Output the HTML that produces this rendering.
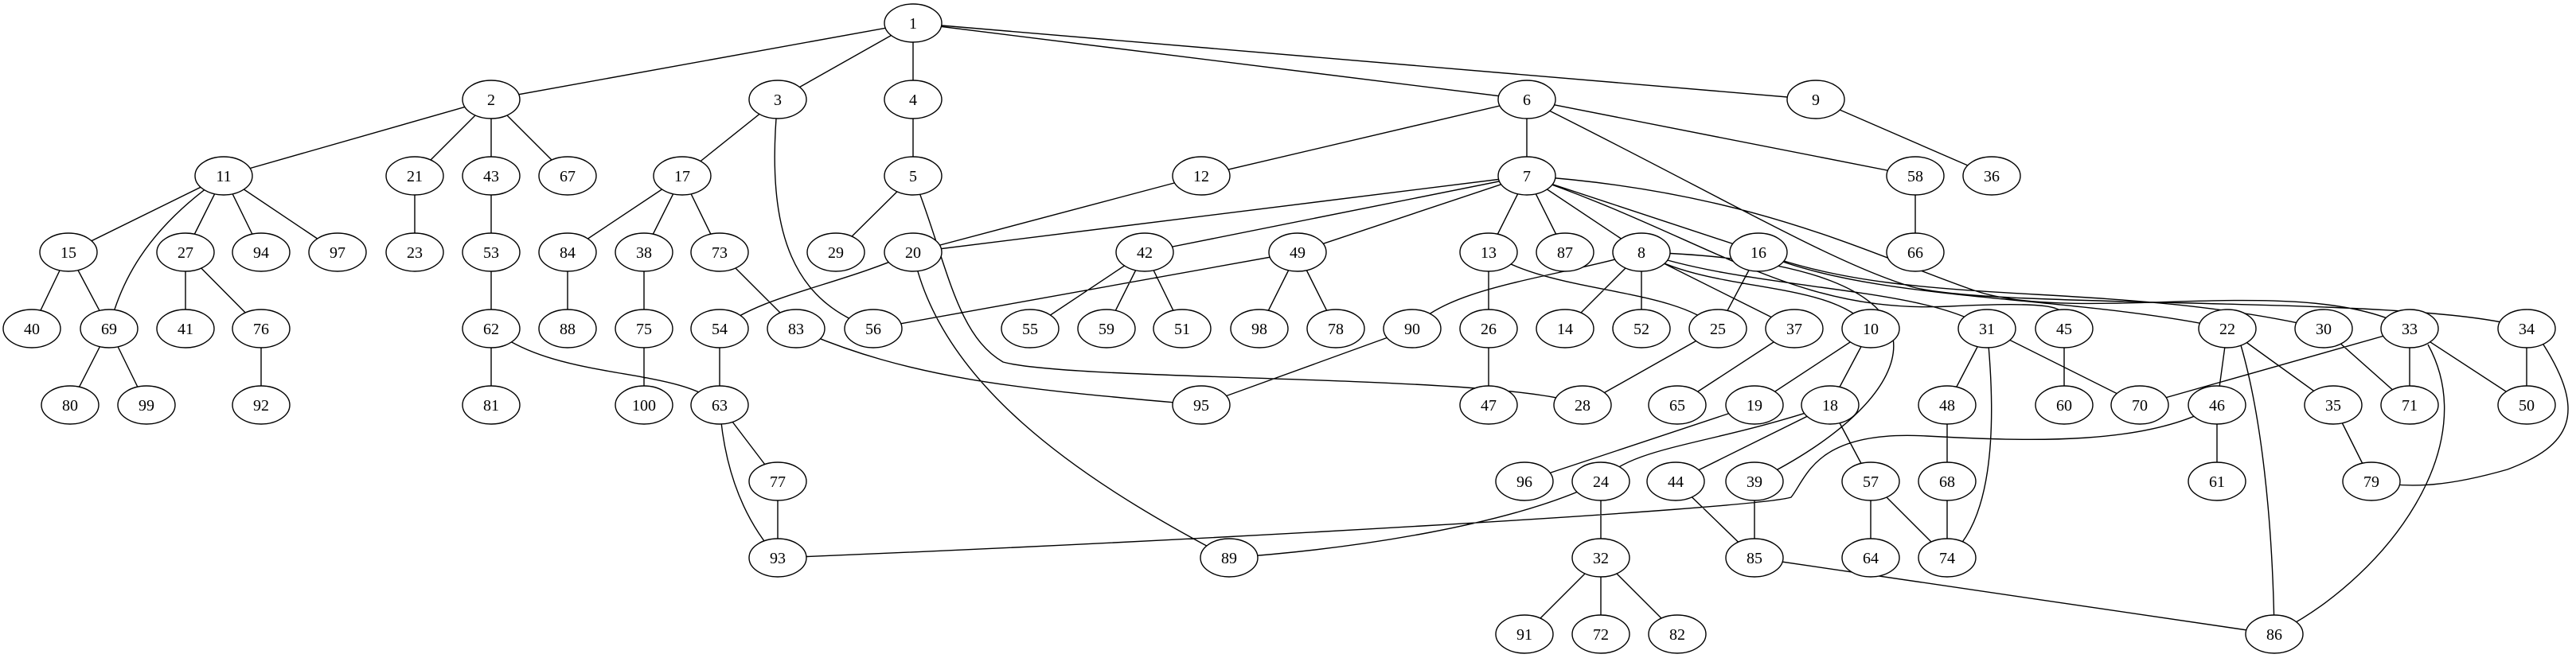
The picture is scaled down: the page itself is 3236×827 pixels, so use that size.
<!DOCTYPE html>
<html><head><meta charset="utf-8"><style>
html,body{margin:0;padding:0;background:#fff;}
svg{display:block;}
text{font-family:"Liberation Serif",serif;font-size:20px;text-anchor:middle;}
</style></head><body>
<svg width="3236" height="827" viewBox="0 0 3236 827" xmlns="http://www.w3.org/2000/svg">
<g stroke="#000" stroke-width="1.4" fill="none">
<path d="M1147,29L617,125M1147,29L977,125M1147,29L1147,125M1147,29L1918,125M1147,29L2281,125
M617,125L281,221M617,125L521,221M617,125L617,221M617,125L713,221M977,125L857,221M1147,125L1147,221
M1918,125L1918,221M1918,125L1509,221M1918,125L2406,221M2281,125L2502,221
M281,221L86,317M281,221L233,317M281,221L328,317M281,221L424,317M521,221L521,317M617,221L617,317
M857,221L713,317M857,221L809,317M857,221L904,317M1147,221L1050,317M1509,221L1147,317
M1918,221L1147,317M1918,221L1438,317M1918,221L1630,317M1918,221L1870,317M1918,221L1966,317M1918,221L2062,317M1918,221L2209,317
M2406,221L2406,317
M86,317L40,413M86,317L137,413M233,317L233,413M233,317L328,413M617,317L617,413M713,317L713,413M809,317L809,413M904,317L1000,413
M1147,317C1050,360 960,370 904,413
M1438,317L1294,413M1438,317L1390,413M1438,317L1485,413M1630,317L1097,413M1630,317L1582,413M1630,317L1678,413
M1870,317L1870,413M1870,317C1950,370 2100,360 2158,413
M2062,317C1950,350 1820,360 1774,413
M2062,317L1966,413M2062,317L2062,413M2062,317L2254,413M2209,317L2158,413
M137,413L88,509M137,413L184,509M328,413L328,509M617,413L617,509M617,413C700,480 850,460 904,509M809,413L809,509M904,413L904,509
M1000,413C1150,480 1300,490 1509,509M1774,413L1509,509M1870,413L1870,509M2158,413L1988,509M2254,413L2107,509
M2350,413L2204,509M2350,413L2299,509M2496,413L2446,509M2496,413L2688,509M2593,413L2593,509
M2798,413L2785,509M2798,413L2931,509M2919,413L3027,509M3027,413L2688,509M3027,413L3027,509M3027,413L3174,509M3174,413L3174,509
M904,509L977,605M2204,509L1915,605M2299,509C2150,560 2050,560 2011,605M2299,509L2105,605M2299,509L2350,605
M2446,509L2446,605M2785,509L2785,605M2931,509L2979,605M977,605L977,701M2011,605L2011,701M2011,605C1900,660 1700,690 1544,701
M2105,605L2204,701M2204,605L2204,701M2350,605L2350,701M2350,605L2446,701M2446,605L2446,701
M2011,701L1915,797M2011,701L2011,797M2011,701L2107,797M2204,701L2857,797
M2062,317C2150,370 2300,350 2350,413
M2062,317C2200,365 2420,360 2496,413
M2209,317C2350,380 2600,370 2798,413
M2209,317C2400,390 2650,350 2919,413
M1918,221C2150,300 2250,395 2450,385S2570,400 2593,413
M1918,221C2200,240 2350,320 2480,365S2900,340 3027,413
M1918,125C2150,240 2300,330 2400,360S3050,370 3174,413
M2062,317C2500,330 2420,500 2204,605
M2785,509C2700,560 2550,555 2420,548C2280,540 2270,600 2250,625C2200,640 1500,680 977,701
M977,125C960,300 1000,380 1097,413
M1147,221C1190,330 1200,420 1260,455C1350,480 1900,470 1988,509
M281,221C180,290 150,360 137,413
M1147,317C1180,480 1350,600 1544,701
M904,509C910,600 940,660 977,701
M2496,413C2510,550 2500,660 2446,701
M2815,434C2840,520 2855,650 2857,797
M3050,433C3120,560 3000,720 2870,790
M3195,433C3250,520 3230,560 3150,590C3080,610 3030,615 2979,605"/>
</g>
<g stroke="#000" stroke-width="1.4" fill="#fff">
<ellipse cx="1147" cy="29" rx="36" ry="24"/>
<ellipse cx="617" cy="125" rx="36" ry="24"/><ellipse cx="977" cy="125" rx="36" ry="24"/><ellipse cx="1147" cy="125" rx="36" ry="24"/><ellipse cx="1918" cy="125" rx="36" ry="24"/><ellipse cx="2281" cy="125" rx="36" ry="24"/>
<ellipse cx="281" cy="221" rx="36" ry="24"/><ellipse cx="521" cy="221" rx="36" ry="24"/><ellipse cx="617" cy="221" rx="36" ry="24"/><ellipse cx="713" cy="221" rx="36" ry="24"/><ellipse cx="857" cy="221" rx="36" ry="24"/><ellipse cx="1147" cy="221" rx="36" ry="24"/><ellipse cx="1509" cy="221" rx="36" ry="24"/><ellipse cx="1918" cy="221" rx="36" ry="24"/><ellipse cx="2406" cy="221" rx="36" ry="24"/><ellipse cx="2502" cy="221" rx="36" ry="24"/>
<ellipse cx="86" cy="317" rx="36" ry="24"/><ellipse cx="233" cy="317" rx="36" ry="24"/><ellipse cx="328" cy="317" rx="36" ry="24"/><ellipse cx="424" cy="317" rx="36" ry="24"/><ellipse cx="521" cy="317" rx="36" ry="24"/><ellipse cx="617" cy="317" rx="36" ry="24"/><ellipse cx="713" cy="317" rx="36" ry="24"/><ellipse cx="809" cy="317" rx="36" ry="24"/><ellipse cx="904" cy="317" rx="36" ry="24"/><ellipse cx="1050" cy="317" rx="36" ry="24"/><ellipse cx="1147" cy="317" rx="36" ry="24"/><ellipse cx="1438" cy="317" rx="36" ry="24"/><ellipse cx="1630" cy="317" rx="36" ry="24"/><ellipse cx="1870" cy="317" rx="36" ry="24"/><ellipse cx="1966" cy="317" rx="36" ry="24"/><ellipse cx="2062" cy="317" rx="36" ry="24"/><ellipse cx="2209" cy="317" rx="36" ry="24"/><ellipse cx="2406" cy="317" rx="36" ry="24"/>
<ellipse cx="40" cy="413" rx="36" ry="24"/><ellipse cx="137" cy="413" rx="36" ry="24"/><ellipse cx="233" cy="413" rx="36" ry="24"/><ellipse cx="328" cy="413" rx="36" ry="24"/><ellipse cx="617" cy="413" rx="36" ry="24"/><ellipse cx="713" cy="413" rx="36" ry="24"/><ellipse cx="809" cy="413" rx="36" ry="24"/><ellipse cx="904" cy="413" rx="36" ry="24"/><ellipse cx="1000" cy="413" rx="36" ry="24"/><ellipse cx="1097" cy="413" rx="36" ry="24"/><ellipse cx="1294" cy="413" rx="36" ry="24"/><ellipse cx="1390" cy="413" rx="36" ry="24"/><ellipse cx="1485" cy="413" rx="36" ry="24"/><ellipse cx="1582" cy="413" rx="36" ry="24"/><ellipse cx="1678" cy="413" rx="36" ry="24"/><ellipse cx="1774" cy="413" rx="36" ry="24"/><ellipse cx="1870" cy="413" rx="36" ry="24"/><ellipse cx="1966" cy="413" rx="36" ry="24"/><ellipse cx="2062" cy="413" rx="36" ry="24"/><ellipse cx="2158" cy="413" rx="36" ry="24"/><ellipse cx="2254" cy="413" rx="36" ry="24"/><ellipse cx="2350" cy="413" rx="36" ry="24"/><ellipse cx="2496" cy="413" rx="36" ry="24"/><ellipse cx="2593" cy="413" rx="36" ry="24"/><ellipse cx="2798" cy="413" rx="36" ry="24"/><ellipse cx="2919" cy="413" rx="36" ry="24"/><ellipse cx="3027" cy="413" rx="36" ry="24"/><ellipse cx="3174" cy="413" rx="36" ry="24"/>
<ellipse cx="88" cy="509" rx="36" ry="24"/><ellipse cx="184" cy="509" rx="36" ry="24"/><ellipse cx="328" cy="509" rx="36" ry="24"/><ellipse cx="617" cy="509" rx="36" ry="24"/><ellipse cx="809" cy="509" rx="36" ry="24"/><ellipse cx="904" cy="509" rx="36" ry="24"/><ellipse cx="1509" cy="509" rx="36" ry="24"/><ellipse cx="1870" cy="509" rx="36" ry="24"/><ellipse cx="1988" cy="509" rx="36" ry="24"/><ellipse cx="2107" cy="509" rx="36" ry="24"/><ellipse cx="2204" cy="509" rx="36" ry="24"/><ellipse cx="2299" cy="509" rx="36" ry="24"/><ellipse cx="2446" cy="509" rx="36" ry="24"/><ellipse cx="2593" cy="509" rx="36" ry="24"/><ellipse cx="2688" cy="509" rx="36" ry="24"/><ellipse cx="2785" cy="509" rx="36" ry="24"/><ellipse cx="2931" cy="509" rx="36" ry="24"/><ellipse cx="3027" cy="509" rx="36" ry="24"/><ellipse cx="3174" cy="509" rx="36" ry="24"/>
<ellipse cx="977" cy="605" rx="36" ry="24"/><ellipse cx="1915" cy="605" rx="36" ry="24"/><ellipse cx="2011" cy="605" rx="36" ry="24"/><ellipse cx="2105" cy="605" rx="36" ry="24"/><ellipse cx="2204" cy="605" rx="36" ry="24"/><ellipse cx="2350" cy="605" rx="36" ry="24"/><ellipse cx="2446" cy="605" rx="36" ry="24"/><ellipse cx="2785" cy="605" rx="36" ry="24"/><ellipse cx="2979" cy="605" rx="36" ry="24"/>
<ellipse cx="977" cy="701" rx="36" ry="24"/><ellipse cx="1544" cy="701" rx="36" ry="24"/><ellipse cx="2011" cy="701" rx="36" ry="24"/><ellipse cx="2204" cy="701" rx="36" ry="24"/><ellipse cx="2350" cy="701" rx="36" ry="24"/><ellipse cx="2446" cy="701" rx="36" ry="24"/>
<ellipse cx="1915" cy="797" rx="36" ry="24"/><ellipse cx="2011" cy="797" rx="36" ry="24"/><ellipse cx="2107" cy="797" rx="36" ry="24"/><ellipse cx="2857" cy="797" rx="36" ry="24"/>
</g>
<g fill="#000">
<text x="1147" y="36">1</text>
<text x="617" y="132">2</text><text x="977" y="132">3</text><text x="1147" y="132">4</text><text x="1918" y="132">6</text><text x="2281" y="132">9</text>
<text x="281" y="228">11</text><text x="521" y="228">21</text><text x="617" y="228">43</text><text x="713" y="228">67</text><text x="857" y="228">17</text><text x="1147" y="228">5</text><text x="1509" y="228">12</text><text x="1918" y="228">7</text><text x="2406" y="228">58</text><text x="2502" y="228">36</text>
<text x="86" y="324">15</text><text x="233" y="324">27</text><text x="328" y="324">94</text><text x="424" y="324">97</text><text x="521" y="324">23</text><text x="617" y="324">53</text><text x="713" y="324">84</text><text x="809" y="324">38</text><text x="904" y="324">73</text><text x="1050" y="324">29</text><text x="1147" y="324">20</text><text x="1438" y="324">42</text><text x="1630" y="324">49</text><text x="1870" y="324">13</text><text x="1966" y="324">87</text><text x="2062" y="324">8</text><text x="2209" y="324">16</text><text x="2406" y="324">66</text>
<text x="40" y="420">40</text><text x="137" y="420">69</text><text x="233" y="420">41</text><text x="328" y="420">76</text><text x="617" y="420">62</text><text x="713" y="420">88</text><text x="809" y="420">75</text><text x="904" y="420">54</text><text x="1000" y="420">83</text><text x="1097" y="420">56</text><text x="1294" y="420">55</text><text x="1390" y="420">59</text><text x="1485" y="420">51</text><text x="1582" y="420">98</text><text x="1678" y="420">78</text><text x="1774" y="420">90</text><text x="1870" y="420">26</text><text x="1966" y="420">14</text><text x="2062" y="420">52</text><text x="2158" y="420">25</text><text x="2254" y="420">37</text><text x="2350" y="420">10</text><text x="2496" y="420">31</text><text x="2593" y="420">45</text><text x="2798" y="420">22</text><text x="2919" y="420">30</text><text x="3027" y="420">33</text><text x="3174" y="420">34</text>
<text x="88" y="516">80</text><text x="184" y="516">99</text><text x="328" y="516">92</text><text x="617" y="516">81</text><text x="809" y="516">100</text><text x="904" y="516">63</text><text x="1509" y="516">95</text><text x="1870" y="516">47</text><text x="1988" y="516">28</text><text x="2107" y="516">65</text><text x="2204" y="516">19</text><text x="2299" y="516">18</text><text x="2446" y="516">48</text><text x="2593" y="516">60</text><text x="2688" y="516">70</text><text x="2785" y="516">46</text><text x="2931" y="516">35</text><text x="3027" y="516">71</text><text x="3174" y="516">50</text>
<text x="977" y="612">77</text><text x="1915" y="612">96</text><text x="2011" y="612">24</text><text x="2105" y="612">44</text><text x="2204" y="612">39</text><text x="2350" y="612">57</text><text x="2446" y="612">68</text><text x="2785" y="612">61</text><text x="2979" y="612">79</text>
<text x="977" y="708">93</text><text x="1544" y="708">89</text><text x="2011" y="708">32</text><text x="2204" y="708">85</text><text x="2350" y="708">64</text><text x="2446" y="708">74</text>
<text x="1915" y="804">91</text><text x="2011" y="804">72</text><text x="2107" y="804">82</text><text x="2857" y="804">86</text>
</g>
</svg>
</body></html>
